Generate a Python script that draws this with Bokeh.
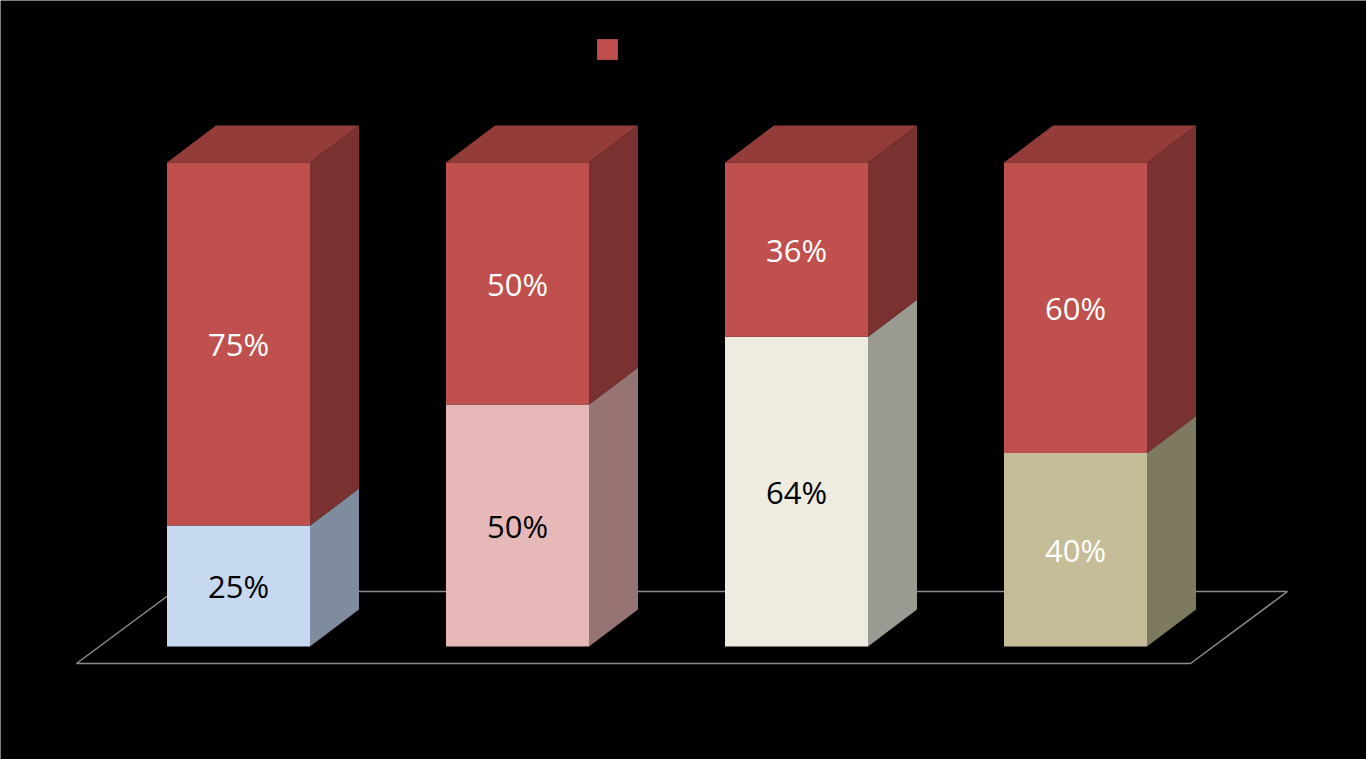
from bokeh.plotting import figure
from bokeh.models import ColumnDataSource, Legend, LegendItem, Range1d
from bokeh.core.properties import value
from bokeh.embed import file_html
from bokeh.resources import INLINE

# ---- data ----
categories = ["A", "B", "C", "D"]
series1 = [0.25, 0.50, 0.64, 0.40]   # lower segment
series2 = [0.75, 0.50, 0.36, 0.60]   # upper (red) segment
labels1 = ["25%", "50%", "64%", "40%"]
labels2 = ["75%", "50%", "36%", "60%"]

# ---- style ----
low_front = ["#C6D9F1", "#E6B9B8", "#EEECE1", "#C4BD97"]
low_side = ["#7F8C9E", "#967473", "#9A9992", "#7E7A5F"]
low_text = ["black", "black", "black", "white"]
red_front = "#C0504D"
red_side = "#7A3230"
red_top = "#943C3A"

W = 1366
H = 759
bar_w = 143 / 279
dx = 49 / 279
dy = 37 / 484

p = figure(width=W, height=H, output_backend="svg", toolbar_location=None,
           x_range=Range1d(-238 / 279, (W - 238) / 279),
           y_range=Range1d(-113 / 484, (H - 113) / 484),
           min_border=0, background_fill_color="black", border_fill_color="black",
           outline_line_color=None)
p.axis.visible = False
p.grid.visible = False

# floor
fx0, fx1 = -162 / 279, 952 / 279
fdx, fdy = 97 / 279, 72 / 484
fy = -17 / 484
p.patch([fx0, fx1, fx1 + fdx, fx0 + fdx], [fy, fy, fy + fdy, fy + fdy],
        fill_color=None, line_color="#8C8C8C", line_width=1.5)

xs = list(range(len(categories)))
left = [x - bar_w / 2 for x in xs]
right = [x + bar_w / 2 for x in xs]
tops1 = series1
tops2 = [a + b for a, b in zip(series1, series2)]

src = ColumnDataSource(dict(x=xs, left=left, right=right, b0=[0] * 4, t1=tops1, t2=tops2,
                            lf=low_front, ls=low_side,
                            m1=[t / 2 for t in tops1],
                            m2=[(a + b) / 2 for a, b in zip(tops1, tops2)],
                            lab1=labels1, lab2=labels2, tc=low_text))

# side faces
side_low_x = [[r, r, r + dx, r + dx] for r in right]
side_low_y = [[0, t, t + dy, dy] for t in tops1]
p.patches(side_low_x, side_low_y, fill_color=low_side, line_color=None)
side_up_x = [[r, r, r + dx, r + dx] for r in right]
side_up_y = [[a, b, b + dy, a + dy] for a, b in zip(tops1, tops2)]
p.patches(side_up_x, side_up_y, fill_color=red_side, line_color=None)
# top faces
top_x = [[l, r, r + dx, l + dx] for l, r in zip(left, right)]
top_y = [[t, t, t + dy, t + dy] for t in tops2]
p.patches(top_x, top_y, fill_color=red_top, line_color=None)

# front faces
p.quad(left="left", right="right", bottom="b0", top="t1", fill_color="lf",
       line_color=None, source=src)
red = p.quad(left="left", right="right", bottom="t1", top="t2", fill_color=red_front,
             line_color=None, source=src)

# labels
p.text(x="x", y="m1", text="lab1", text_color="tc", text_align="center",
       text_baseline="middle", text_font=value("Open Sans"), text_font_size="31px",
       source=src)
p.text(x="x", y="m2", text="lab2", text_color="white", text_align="center",
       text_baseline="middle", text_font=value("Open Sans"), text_font_size="31px",
       source=src)

legend = Legend(items=[LegendItem(label=" ", renderers=[red])],
                location=(594, 697), orientation="horizontal",
                background_fill_alpha=0, border_line_color=None,
                padding=0, margin=0, glyph_width=26, glyph_height=26,
                label_text_color="black", label_width=10)
p.add_layout(legend, "center")

open("out.html", "w").write(file_html(p, INLINE))
